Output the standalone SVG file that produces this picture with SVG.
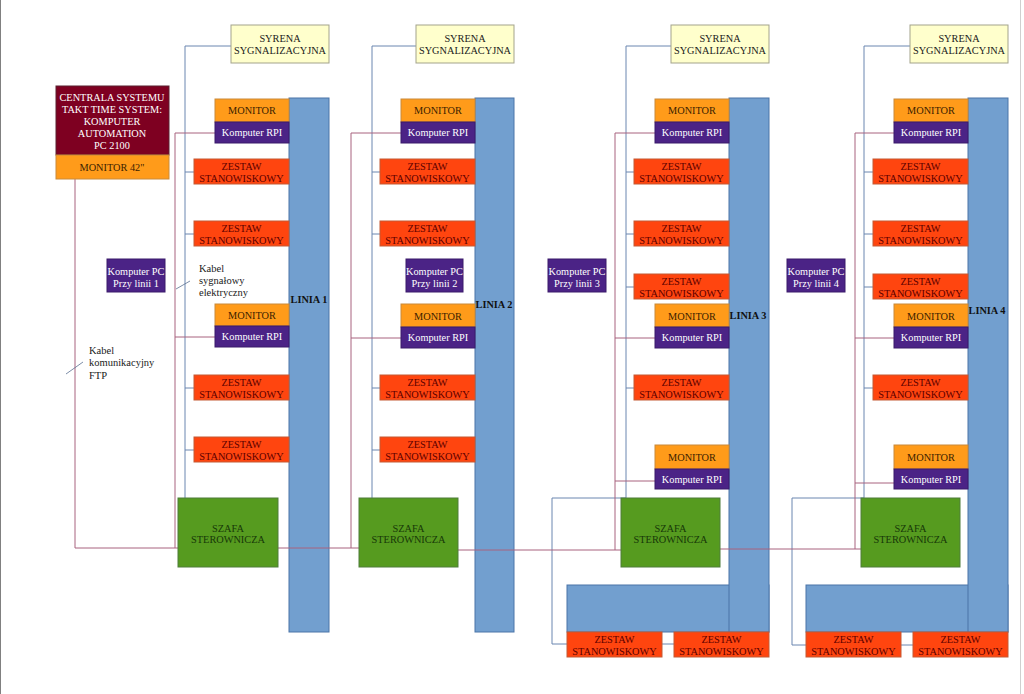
<svg xmlns="http://www.w3.org/2000/svg" width="1024" height="694" viewBox="0 0 1024 694">
<style>
.sy{fill:#ffffcc;stroke:#a3a38c;stroke-width:1}
.mo{fill:#ff9b1a;stroke:#c98a3a;stroke-width:1}
.rp{fill:#4b2386;stroke:#3a1a6a;stroke-width:1}
.ze{fill:#ff450f;stroke:#c45a35;stroke-width:1}
.sz{fill:#569b1f;stroke:#4e7d3a;stroke-width:1}
.bar{fill:#729fcf;stroke:#4a74a8;stroke-width:1}
.ce{fill:#7e0021;stroke:#5a2030;stroke-width:1}
.t{font-family:"Liberation Serif",serif;font-size:10.3px;text-anchor:middle}
.tw{fill:#ffffff}
.tm{fill:#3b1e00}
.tz{fill:#5c0000}
.ts{fill:#173808}
.td{fill:#1a1a1a}
.tl{font-family:"Liberation Serif",serif;font-size:10.3px;font-weight:bold;text-anchor:middle;fill:#111}
.an{font-family:"Liberation Serif",serif;font-size:10.5px;fill:#1a1a1a}
.cb{fill:none;stroke:#6a86b0;stroke-width:1}
.cr{fill:none;stroke:#a8627e;stroke-width:1}
.ca{fill:none;stroke:#5a7090;stroke-width:0.8}
</style>
<rect x="0" y="0" width="1024" height="694" fill="#ffffff"/>
<line x1="0.5" y1="0" x2="0.5" y2="694" stroke="#808080"/>
<line x1="1020.5" y1="0" x2="1020.5" y2="694" stroke="#d0d0d0"/>

<!-- bars -->
<g id="linia1"><rect class="bar" x="289" y="98" width="40" height="534"/><text class="tl" x="309" y="303">LINIA 1</text></g>
<g id="linia2"><rect class="bar" x="475" y="98" width="39" height="534"/><text class="tl" x="494" y="308">LINIA 2</text></g>
<g id="linia3"><rect class="bar" x="567" y="585" width="202" height="47"/><rect class="bar" x="729" y="98" width="40" height="534"/><text class="tl" x="748" y="319">LINIA 3</text></g>
<g id="linia4"><rect class="bar" x="806" y="585" width="202" height="47"/><rect class="bar" x="968" y="98" width="40" height="534"/><text class="tl" x="987" y="314">LINIA 4</text></g>

<g id="connectors">
<!-- blue signal lines -->
<path class="cb" d="M231,46H185V498M185,172H194M185,234H194M185,388H194M185,450H194"/>
<path class="cb" d="M416,46H372V498M372,172H380M372,234H380M372,388H380M372,450H380"/>
<path class="cb" d="M671,46H626V498M626,172H634M626,234H634M626,287H634M626,388H634M626,498H552V644H567M662,644H674"/>
<path class="cb" d="M910,46H864V498M864,172H873M864,234H873M864,287H873M864,388H873M864,498H792V645H806M901,645H913"/>
<!-- red communication lines -->
<path class="cr" d="M75,179V548H178"/>
<path class="cr" d="M215,133H175V548M175,337H215"/>
<path class="cr" d="M278,548H359"/>
<path class="cr" d="M401,133H351V548M351,338H401"/>
<path class="cr" d="M458,550H621"/>
<path class="cr" d="M655,133H615V550M615,338H655M615,481H655"/>
<path class="cr" d="M720,549H861"/>
<path class="cr" d="M894,133H855V549M855,338H894M855,483H894"/>
<!-- annotation pointers -->
<line class="ca" x1="176" y1="289" x2="190" y2="281"/>
<line class="ca" x1="66" y1="374" x2="83" y2="362"/>
</g>

<!-- central -->
<g id="centrala">
<rect class="ce" x="56" y="86" width="113" height="69"/>
<text class="t tw" x="112" y="101">CENTRALA SYSTEMU</text>
<text class="t tw" x="112" y="113">TAKT TIME SYSTEM:</text>
<text class="t tw" x="112" y="125">KOMPUTER</text>
<text class="t tw" x="112" y="137">AUTOMATION</text>
<text class="t tw" x="112" y="149">PC 2100</text>
</g>
<g id="monitor42"><rect class="mo" x="56" y="155" width="113" height="24"/><text class="t tm" x="112" y="171">MONITOR 42"</text></g>

<g id="ann1"><text class="an" x="199" y="272">Kabel</text><text class="an" x="199" y="284">sygnałowy</text><text class="an" x="199" y="296">elektryczny</text></g>
<g id="ann2"><text class="an" x="89" y="354">Kabel</text><text class="an" x="89" y="366">komunikacyjny</text><text class="an" x="89" y="379">FTP</text></g>

<!-- LINE 1 -->
<g id="l1-syrena"><rect class="sy" x="231" y="25" width="98" height="38"/><text class="t td" x="280" y="42">SYRENA</text><text class="t td" x="280" y="54">SYGNALIZACYJNA</text></g>
<g id="l1-mon1"><rect class="mo" x="215" y="99" width="74" height="23"/><text class="t tm" x="252" y="114">MONITOR</text></g>
<g id="l1-rpi1"><rect class="rp" x="215" y="122" width="74" height="21"/><text class="t tw" x="252" y="136">Komputer RPI</text></g>
<g id="l1-ze1"><rect class="ze" x="194" y="159" width="95" height="25"/><text class="t tz" x="241.5" y="169.5">ZESTAW</text><text class="t tz" x="241.5" y="181.5">STANOWISKOWY</text></g>
<g id="l1-ze2"><rect class="ze" x="194" y="221" width="95" height="25"/><text class="t tz" x="241.5" y="231.5">ZESTAW</text><text class="t tz" x="241.5" y="243.5">STANOWISKOWY</text></g>
<g id="l1-pc"><rect class="rp" x="107" y="259" width="58" height="33"/><text class="t tw" x="136" y="275">Komputer PC</text><text class="t tw" x="136" y="287">Przy linii 1</text></g>
<g id="l1-mon2"><rect class="mo" x="215" y="304" width="74" height="22"/><text class="t tm" x="252" y="319">MONITOR</text></g>
<g id="l1-rpi2"><rect class="rp" x="215" y="326" width="74" height="21"/><text class="t tw" x="252" y="340">Komputer RPI</text></g>
<g id="l1-ze3"><rect class="ze" x="194" y="375" width="95" height="25"/><text class="t tz" x="241.5" y="385.5">ZESTAW</text><text class="t tz" x="241.5" y="397.5">STANOWISKOWY</text></g>
<g id="l1-ze4"><rect class="ze" x="194" y="437" width="95" height="25"/><text class="t tz" x="241.5" y="447.5">ZESTAW</text><text class="t tz" x="241.5" y="459.5">STANOWISKOWY</text></g>
<g id="l1-szafa"><rect class="sz" x="178" y="498" width="100" height="69"/><text class="t ts" x="228" y="532">SZAFA</text><text class="t ts" x="228" y="543">STEROWNICZA</text></g>

<!-- LINE 2 -->
<g id="l2-syrena"><rect class="sy" x="416" y="25" width="98" height="38"/><text class="t td" x="465" y="42">SYRENA</text><text class="t td" x="465" y="54">SYGNALIZACYJNA</text></g>
<g id="l2-mon1"><rect class="mo" x="401" y="99" width="74" height="23"/><text class="t tm" x="438" y="114">MONITOR</text></g>
<g id="l2-rpi1"><rect class="rp" x="401" y="122" width="74" height="21"/><text class="t tw" x="438" y="136">Komputer RPI</text></g>
<g id="l2-ze1"><rect class="ze" x="380" y="159" width="95" height="25"/><text class="t tz" x="427.5" y="169.5">ZESTAW</text><text class="t tz" x="427.5" y="181.5">STANOWISKOWY</text></g>
<g id="l2-ze2"><rect class="ze" x="380" y="221" width="95" height="25"/><text class="t tz" x="427.5" y="231.5">ZESTAW</text><text class="t tz" x="427.5" y="243.5">STANOWISKOWY</text></g>
<g id="l2-pc"><rect class="rp" x="406" y="259" width="57" height="33"/><text class="t tw" x="434.5" y="275">Komputer PC</text><text class="t tw" x="434.5" y="287">Przy linii 2</text></g>
<g id="l2-mon2"><rect class="mo" x="401" y="304" width="74" height="23"/><text class="t tm" x="438" y="319.5">MONITOR</text></g>
<g id="l2-rpi2"><rect class="rp" x="401" y="327" width="74" height="21"/><text class="t tw" x="438" y="341">Komputer RPI</text></g>
<g id="l2-ze3"><rect class="ze" x="380" y="375" width="95" height="25"/><text class="t tz" x="427.5" y="385.5">ZESTAW</text><text class="t tz" x="427.5" y="397.5">STANOWISKOWY</text></g>
<g id="l2-ze4"><rect class="ze" x="380" y="437" width="95" height="25"/><text class="t tz" x="427.5" y="447.5">ZESTAW</text><text class="t tz" x="427.5" y="459.5">STANOWISKOWY</text></g>
<g id="l2-szafa"><rect class="sz" x="359" y="498" width="99" height="69"/><text class="t ts" x="408.5" y="532">SZAFA</text><text class="t ts" x="408.5" y="543">STEROWNICZA</text></g>

<!-- LINE 3 -->
<g id="l3-syrena"><rect class="sy" x="671" y="25" width="98" height="38"/><text class="t td" x="720" y="42">SYRENA</text><text class="t td" x="720" y="54">SYGNALIZACYJNA</text></g>
<g id="l3-mon1"><rect class="mo" x="655" y="99" width="74" height="23"/><text class="t tm" x="692" y="114">MONITOR</text></g>
<g id="l3-rpi1"><rect class="rp" x="655" y="122" width="74" height="21"/><text class="t tw" x="692" y="136">Komputer RPI</text></g>
<g id="l3-ze1"><rect class="ze" x="634" y="159" width="95" height="25"/><text class="t tz" x="681.5" y="169.5">ZESTAW</text><text class="t tz" x="681.5" y="181.5">STANOWISKOWY</text></g>
<g id="l3-ze2"><rect class="ze" x="634" y="221" width="95" height="25"/><text class="t tz" x="681.5" y="231.5">ZESTAW</text><text class="t tz" x="681.5" y="243.5">STANOWISKOWY</text></g>
<g id="l3-ze3"><rect class="ze" x="634" y="274" width="95" height="25"/><text class="t tz" x="681.5" y="284.5">ZESTAW</text><text class="t tz" x="681.5" y="296.5">STANOWISKOWY</text></g>
<g id="l3-pc"><rect class="rp" x="548" y="259" width="58" height="33"/><text class="t tw" x="577" y="275">Komputer PC</text><text class="t tw" x="577" y="287">Przy linii 3</text></g>
<g id="l3-mon2"><rect class="mo" x="655" y="304" width="74" height="23"/><text class="t tm" x="692" y="319.5">MONITOR</text></g>
<g id="l3-rpi2"><rect class="rp" x="655" y="327" width="74" height="21"/><text class="t tw" x="692" y="341">Komputer RPI</text></g>
<g id="l3-ze4"><rect class="ze" x="634" y="375" width="95" height="25"/><text class="t tz" x="681.5" y="385.5">ZESTAW</text><text class="t tz" x="681.5" y="397.5">STANOWISKOWY</text></g>
<g id="l3-mon3"><rect class="mo" x="655" y="445" width="74" height="24"/><text class="t tm" x="692" y="461">MONITOR</text></g>
<g id="l3-rpi3"><rect class="rp" x="655" y="469" width="74" height="20"/><text class="t tw" x="692" y="483">Komputer RPI</text></g>
<g id="l3-szafa"><rect class="sz" x="621" y="498" width="99" height="69"/><text class="t ts" x="670.5" y="532">SZAFA</text><text class="t ts" x="670.5" y="543">STEROWNICZA</text></g>
<g id="l3-ze5"><rect class="ze" x="567" y="632" width="95" height="25"/><text class="t tz" x="614.5" y="642.5">ZESTAW</text><text class="t tz" x="614.5" y="654.5">STANOWISKOWY</text></g>
<g id="l3-ze6"><rect class="ze" x="674" y="632" width="95" height="25"/><text class="t tz" x="721.5" y="642.5">ZESTAW</text><text class="t tz" x="721.5" y="654.5">STANOWISKOWY</text></g>

<!-- LINE 4 -->
<g id="l4-syrena"><rect class="sy" x="910" y="25" width="98" height="38"/><text class="t td" x="959" y="42">SYRENA</text><text class="t td" x="959" y="54">SYGNALIZACYJNA</text></g>
<g id="l4-mon1"><rect class="mo" x="894" y="99" width="74" height="23"/><text class="t tm" x="931" y="114">MONITOR</text></g>
<g id="l4-rpi1"><rect class="rp" x="894" y="122" width="74" height="21"/><text class="t tw" x="931" y="136">Komputer RPI</text></g>
<g id="l4-ze1"><rect class="ze" x="873" y="159" width="95" height="25"/><text class="t tz" x="920.5" y="169.5">ZESTAW</text><text class="t tz" x="920.5" y="181.5">STANOWISKOWY</text></g>
<g id="l4-ze2"><rect class="ze" x="873" y="221" width="95" height="25"/><text class="t tz" x="920.5" y="231.5">ZESTAW</text><text class="t tz" x="920.5" y="243.5">STANOWISKOWY</text></g>
<g id="l4-ze3"><rect class="ze" x="873" y="274" width="95" height="25"/><text class="t tz" x="920.5" y="284.5">ZESTAW</text><text class="t tz" x="920.5" y="296.5">STANOWISKOWY</text></g>
<g id="l4-pc"><rect class="rp" x="787" y="259" width="58" height="33"/><text class="t tw" x="816" y="275">Komputer PC</text><text class="t tw" x="816" y="287">Przy linii 4</text></g>
<g id="l4-mon2"><rect class="mo" x="894" y="304" width="74" height="23"/><text class="t tm" x="931" y="319.5">MONITOR</text></g>
<g id="l4-rpi2"><rect class="rp" x="894" y="327" width="74" height="21"/><text class="t tw" x="931" y="341">Komputer RPI</text></g>
<g id="l4-ze4"><rect class="ze" x="873" y="375" width="95" height="25"/><text class="t tz" x="920.5" y="385.5">ZESTAW</text><text class="t tz" x="920.5" y="397.5">STANOWISKOWY</text></g>
<g id="l4-mon3"><rect class="mo" x="894" y="445" width="74" height="24"/><text class="t tm" x="931" y="461">MONITOR</text></g>
<g id="l4-rpi3"><rect class="rp" x="894" y="469" width="74" height="20"/><text class="t tw" x="931" y="483">Komputer RPI</text></g>
<g id="l4-szafa"><rect class="sz" x="861" y="498" width="99" height="69"/><text class="t ts" x="910.5" y="532">SZAFA</text><text class="t ts" x="910.5" y="543">STEROWNICZA</text></g>
<g id="l4-ze5"><rect class="ze" x="806" y="632" width="95" height="25"/><text class="t tz" x="853.5" y="642.5">ZESTAW</text><text class="t tz" x="853.5" y="654.5">STANOWISKOWY</text></g>
<g id="l4-ze6"><rect class="ze" x="913" y="632" width="95" height="25"/><text class="t tz" x="960.5" y="642.5">ZESTAW</text><text class="t tz" x="960.5" y="654.5">STANOWISKOWY</text></g>
</svg>
